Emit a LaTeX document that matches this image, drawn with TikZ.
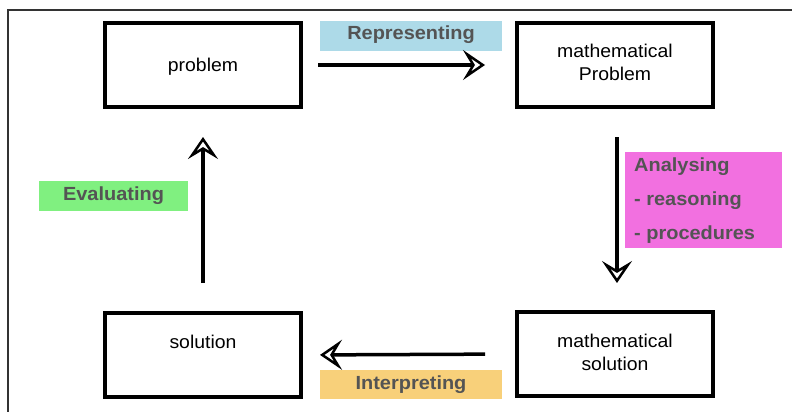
\documentclass[tikz,border=0pt]{standalone}
\usepackage{fontspec}
\setmainfont{Liberation Sans}[FakeStretch=1.05]
\usetikzlibrary{arrows.meta}
\definecolor{lblue}{RGB}{173,218,232}
\definecolor{lmag}{RGB}{242,112,224}
\definecolor{lgreen}{RGB}{128,240,128}
\definecolor{lorange}{RGB}{248,208,122}
\definecolor{lbltext}{RGB}{84,84,84}
\begin{document}
\begin{tikzpicture}[x=1pt,y=-1pt,
  boxnode/.style={draw=black,line width=4pt,minimum width=196pt,minimum height=84pt,inner sep=0pt,outer sep=0pt},
  boxtext/.style={font=\fontsize{18.5}{23}\selectfont,align=center,inner sep=0pt},
  lblbox/.style={inner sep=0pt,outer sep=0pt,anchor=north west},
  lbltext/.style={font=\fontsize{19}{23}\selectfont\bfseries,text=lbltext,inner sep=0pt},
  flow/.style={line width=3.5pt,-{Stealth[open,length=22pt,width=30pt,inset=9pt,line width=2.5pt,fill=white]}}]
\useasboundingbox (0,0) rectangle (792,412);
% outer frame (partially visible)
\draw[line width=2pt,draw=black!80] (792,10) -- (8,10) -- (8,412);
% label backgrounds
\node[lblbox,fill=lblue,minimum width=182pt,minimum height=30pt] (repbg) at (320,21) {};
\node[lbltext] (rep) at ([yshift=1pt]repbg.center) {Representing};
\node[lblbox,fill=lmag,minimum width=157pt,minimum height=96pt] (anabg) at (625,152) {};
\node[lbltext,anchor=west] (ana1) at (634,167) {Analysing};
\node[lbltext,anchor=west] (ana2) at (634,201) {- reasoning};
\node[lbltext,anchor=west] (ana3) at (634,235) {- procedures};
\node[lblbox,fill=lgreen,minimum width=149pt,minimum height=30pt] (evabg) at (39,181) {};
\node[lbltext] (eva) at (evabg.center) {Evaluating};
\node[lblbox,fill=lorange,minimum width=182pt,minimum height=29pt] (intbg) at (320,370) {};
\node[lbltext] (int) at (intbg.center) {Interpreting};
% boxes
\node[boxnode] (prob) at (203,65) {};
\node[boxtext] (probt) at (203,67) {problem};
\node[boxnode] (mprob) at (615,65) {};
\node[boxtext] (mprobt) at (615,62) {mathematical\\Problem};
\node[boxnode] (sol) at (203,355) {};
\node[boxtext] (solt) at (203,342) {solution};
\node[boxnode] (msol) at (615,354) {};
\node[boxtext] (msolt) at (615,352) {mathematical\\solution};
% arrows
\draw[flow,shorten <=17pt,shorten >=32pt] (prob.east) -- (mprob.west);
\draw[flow,shorten <=30pt,shorten >=29pt] ([xshift=2pt]mprob.south) -- ([xshift=2pt]msol.north);
\draw[flow,shorten <=32pt,shorten >=19pt] (msol.west) -- (sol.east);
\draw[flow,shorten <=30pt,shorten >=30pt] (sol.north) -- (prob.south);
\end{tikzpicture}
\end{document}
